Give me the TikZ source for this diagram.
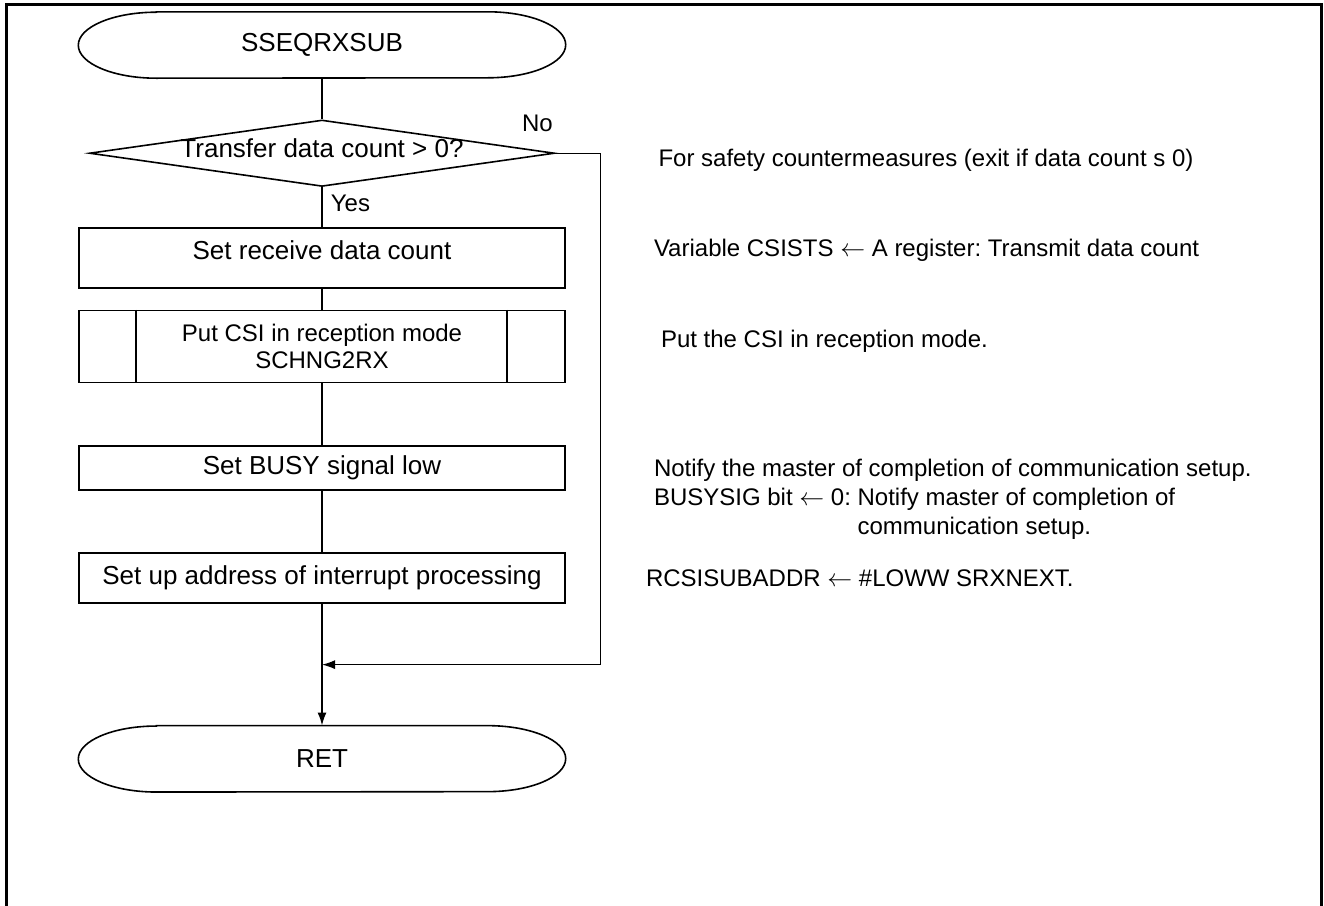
\documentclass[tikz,border=0pt]{standalone}
\usepackage{fontspec}
\setmainfont{Liberation Sans}
\usepackage{tikz}
\usetikzlibrary{arrows.meta, positioning, calc, shapes.geometric}
\frenchspacing
\tikzset{
  terminal/.style={rectangle, minimum width=487pt, minimum height=66pt,
                   inner sep=0pt, font=\fontsize{26}{30}\selectfont},
  process/.style={draw, rectangle, line width=1.6pt, minimum width=486pt,
                  minimum height=#1, inner sep=0pt, align=center,
                  font=\fontsize{26}{30}\selectfont},
  process/.default=46pt,
  decision/.style={draw, diamond, line width=1.6pt, minimum width=465pt,
                   minimum height=66pt, inner sep=0pt, shape aspect=7,
                   text height=17pt, text depth=9pt,
                   font=\fontsize{26}{30}\selectfont},
  flow/.style={line width=1.8pt},
  arrow/.style={-{Latex[length=13pt, width=9pt]}, line width=1.8pt},
  branch/.style={font=\fontsize{24}{28}\selectfont, inner sep=2pt},
  note/.style={anchor=west, align=left, inner sep=3pt,
               font=\fontsize{24}{29}\selectfont},
}

\begin{document}
\begin{tikzpicture}[x=1pt, y=1pt]
  \useasboundingbox (0,0) rectangle (1324,-905);
  \draw[line width=3pt] (6,-912) -- (6,-4) -- (1321,-4) -- (1321,-912);

  \node[terminal] (start) at (322,-45) {SSEQRXSUB};
  \node[decision, below=41pt of start] (cnt) {Transfer data count > 0?};
  \node[process=60pt, text depth=16pt, below=40pt of cnt]
    (rxcnt) {Set receive data count};
  \node[process=72pt, font=\fontsize{24}{27}\selectfont, below=21pt of rxcnt]
    (chng) {Put CSI in reception mode\\SCHNG2RX};
  \node[process=44pt, below=62pt of chng] (busy) {Set BUSY signal low};
  \node[process=50pt, below=61pt of busy]
    (addr) {Set up address of interrupt processing};
  \node[terminal, below=122pt of addr] (ret) {RET};
  \coordinate (merge) at ($(addr.south)!0.5!(ret.north)$);

  % terminals
  \foreach \t in {start, ret}
    \draw[line width=1.6pt] ($(\t.north west)+(78,0)$) -- ($(\t.north east)+(-78,0)$)
      arc[start angle=90, end angle=-90, x radius=78pt, y radius=33pt]
      -- ($(\t.south west)+(78,0)$)
      arc[start angle=270, end angle=90, x radius=78pt, y radius=33pt] -- cycle;
  \draw[line width=1.6pt] ($(chng.north west)+(58,0)$) -- ($(chng.south west)+(58,0)$);
  \draw[line width=1.6pt] ($(chng.north east)+(-59,0)$) -- ($(chng.south east)+(-59,0)$);

  % notes
  \node[note, right=100pt of cnt.east, yshift=-7pt]
    (n1) {For safety countermeasures (exit if data count s 0)};
  \node[note, right=85pt of rxcnt.east, yshift=8pt]
    (n2) {Variable CSISTS $\leftarrow$ A register: Transmit data count};
  \node[note, right=92pt of chng.east, yshift=5pt]
    (n3) {Put the CSI in reception mode.};
  \node[note, right=85pt of busy.east, anchor=north west, yshift=12pt]
    (n4) {Notify the master of completion of communication setup.\\
          BUSYSIG bit $\leftarrow$ 0: Notify master of completion of\\
          \phantom{BUSYSIG bit $\leftarrow$ 0: }communication setup.};
  \node[note, right=77pt of addr.east]
    (n5) {RCSISUBADDR $\leftarrow$ \#LOWW SRXNEXT.};

  \draw[flow] (start) -- (cnt);
  \draw[flow] (cnt) -- node[branch, right, pos=0.4, xshift=6pt] {Yes} (rxcnt);
  \draw[flow] (rxcnt) -- (chng);
  \draw[flow] (chng) -- (busy);
  \draw[flow] (busy) -- (addr);
  \draw[arrow] (addr) -- (ret);
  \draw[arrow, line width=1.2pt] (cnt.east)
    -- node[branch, pos=0, anchor=south east, yshift=19pt] {No} ++(45,0) |- (merge);

\end{tikzpicture}
\end{document}
